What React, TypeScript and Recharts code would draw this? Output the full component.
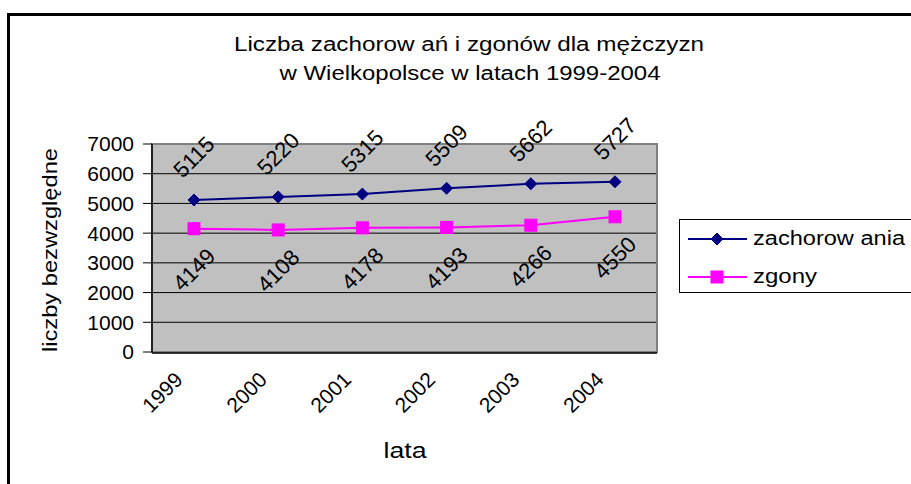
import { LineChart, Line, XAxis, YAxis, CartesianGrid, Legend, LabelList, ReferenceArea } from "recharts";

const years = ["1999", "2000", "2001", "2002", "2003", "2004"];
const zachorowania = [5115, 5220, 5315, 5509, 5662, 5727];
const zgony = [4149, 4108, 4178, 4193, 4266, 4550];
const yTicks = [0, 1000, 2000, 3000, 4000, 5000, 6000, 7000];

const data = years.map((year, i) => ({ year, edge: i, zachorowania: zachorowania[i], zgony: zgony[i] }));
const bandEdges = [...years.map((_, i) => i), years.length];

const FONT = "'Liberation Sans', Arial, sans-serif";
const NAVY = "#000080";
const MAGENTA = "#FF00FF";

function Diamond({ cx, cy }: any) {
  if (cx == null || cy == null) return null;
  const r = 6;
  return <path d={`M${cx},${cy - r}L${cx + r},${cy}L${cx},${cy + r}L${cx - r},${cy}Z`} fill={NAVY} stroke={NAVY} />;
}

function Square({ cx, cy }: any) {
  if (cx == null || cy == null) return null;
  const s = 6;
  return <rect x={cx - s} y={cy - s} width={s * 2} height={s * 2} fill={MAGENTA} stroke={MAGENTA} />;
}

const rotatedLabel = (dy: number) => (props: any) => {
  const { x, y, value } = props;
  const cx = x;
  const cy = y + dy;
  return (
    <text
      x={cx}
      y={cy}
      transform={`rotate(-45 ${cx} ${cy})`}
      textAnchor="middle"
      dominantBaseline="central"
      fontSize={22}
      fontFamily={FONT}
      fill="#000"
    >
      {value}
    </text>
  );
};

function YearTick({ x, y, payload }: any) {
  const ax = x - 10;
  const ay = y + 29;
  return (
    <text
      x={ax}
      y={ay}
      transform={`rotate(-45 ${ax} ${ay})`}
      textAnchor="end"
      fontSize={21}
      fontFamily={FONT}
      fill="#000"
    >
      {payload.value}
    </text>
  );
}

function LegendBox() {
  const items = [
    { name: "zachorow ania", color: NAVY, kind: "diamond", len: 152 },
    { name: "zgony", color: MAGENTA, kind: "square", len: 64 },
  ];
  return (
    <div style={{ width: 240, height: 74, border: "1px solid #000", boxSizing: "border-box", background: "#fff" }}>
      <svg width={238} height={72} style={{ display: "block" }}>
        {items.map((it, i) => {
          const cy = 19 + i * 38;
          return (
            <g key={it.name}>
              <line x1={8} x2={67} y1={cy} y2={cy} stroke={it.color} strokeWidth={2} />
              {it.kind === "diamond" ? <Diamond cx={37} cy={cy} /> : <Square cx={37} cy={cy} />}
              <text
                x={73}
                y={cy + 6}
                fontSize={20}
                fontFamily={FONT}
                fill="#000"
                textLength={it.len}
                lengthAdjust="spacingAndGlyphs"
              >
                {it.name}
              </text>
            </g>
          );
        })}
      </svg>
    </div>
  );
}

export default function App() {
  return (
    <div style={{ position: "absolute", left: 0, top: 0, width: 911, height: 484, overflow: "hidden", background: "#fff" }}>
      <LineChart
        width={911}
        height={484}
        data={data}
        margin={{ top: 144, right: 14, bottom: 130, left: 0 }}
      >
        <CartesianGrid fill="#C0C0C0" stroke="#000" vertical={false} />
        <XAxis
          xAxisId="edge"
          dataKey="edge"
          type="number"
          domain={[0, years.length]}
          allowDataOverflow
          ticks={bandEdges}
          tick={false}
          tickSize={6}
          height={1}
          axisLine={{ stroke: "#000", strokeWidth: 1.5 }}
          tickLine={{ stroke: "#000" }}
        />
        <XAxis
          xAxisId="cat"
          dataKey="year"
          padding={{ left: 42, right: 42 }}
          height={1}
          axisLine={false}
          tickLine={false}
          tickSize={0}
          tickMargin={0}
          interval={0}
          tick={<YearTick />}
        />
        <YAxis
          width={152}
          domain={[0, 7000]}
          ticks={yTicks}
          interval={0}
          tickSize={9}
          tickMargin={9}
          axisLine={{ stroke: "#000", strokeWidth: 1.5 }}
          tickLine={{ stroke: "#000" }}
          tick={{ fill: "#000", fontSize: 21, fontFamily: FONT }}
        />
        <ReferenceArea
          xAxisId="edge"
          x1={0}
          x2={years.length}
          y1={0}
          y2={7000}
          fill="none"
          fillOpacity={0}
          stroke="#808080"
          strokeWidth={2}
          ifOverflow="visible"
        />
        <Legend
          layout="vertical"
          align="right"
          verticalAlign="top"
          width={240}
          wrapperStyle={{ left: 679, top: 219, width: 240, height: 74 }}
          content={<LegendBox />}
        />
        <Line
          xAxisId="cat"
          dataKey="zachorowania"
          name="zachorow ania"
          stroke={NAVY}
          strokeWidth={2}
          dot={<Diamond />}
          isAnimationActive={false}
        >
          <LabelList dataKey="zachorowania" content={rotatedLabel(-43)} />
        </Line>
        <Line
          xAxisId="cat"
          dataKey="zgony"
          name="zgony"
          stroke={MAGENTA}
          strokeWidth={2}
          dot={<Square />}
          isAnimationActive={false}
        >
          <LabelList dataKey="zgony" content={rotatedLabel(41)} />
        </Line>
      </LineChart>
      <svg width={911} height={484} style={{ position: "absolute", left: 0, top: 0, pointerEvents: "none" }}>
        <text x={469} y={51} textAnchor="middle" fontSize={20} fontFamily={FONT} fill="#000" textLength={470} lengthAdjust="spacingAndGlyphs">
          Liczba zachorow ań i zgonów  dla mężczyzn
        </text>
        <text x={470} y={80} textAnchor="middle" fontSize={20} fontFamily={FONT} fill="#000" textLength={381} lengthAdjust="spacingAndGlyphs">
          w  Wielkopolsce w  latach 1999-2004
        </text>
        <text x={405} y={458} textAnchor="middle" fontSize={22} fontFamily={FONT} fill="#000" textLength={43} lengthAdjust="spacingAndGlyphs">
          lata
        </text>
        <text
          x={57}
          y={250}
          transform="rotate(-90 57 250)"
          textAnchor="middle"
          fontSize={20}
          fontFamily={FONT}
          fill="#000"
          textLength={204}
          lengthAdjust="spacingAndGlyphs"
        >
          liczby bezwzględne
        </text>
      </svg>
      <div style={{ position: "absolute", left: 7, top: 13, width: 1000, height: 1000, border: "3px solid #000" }} />
    </div>
  );
}
